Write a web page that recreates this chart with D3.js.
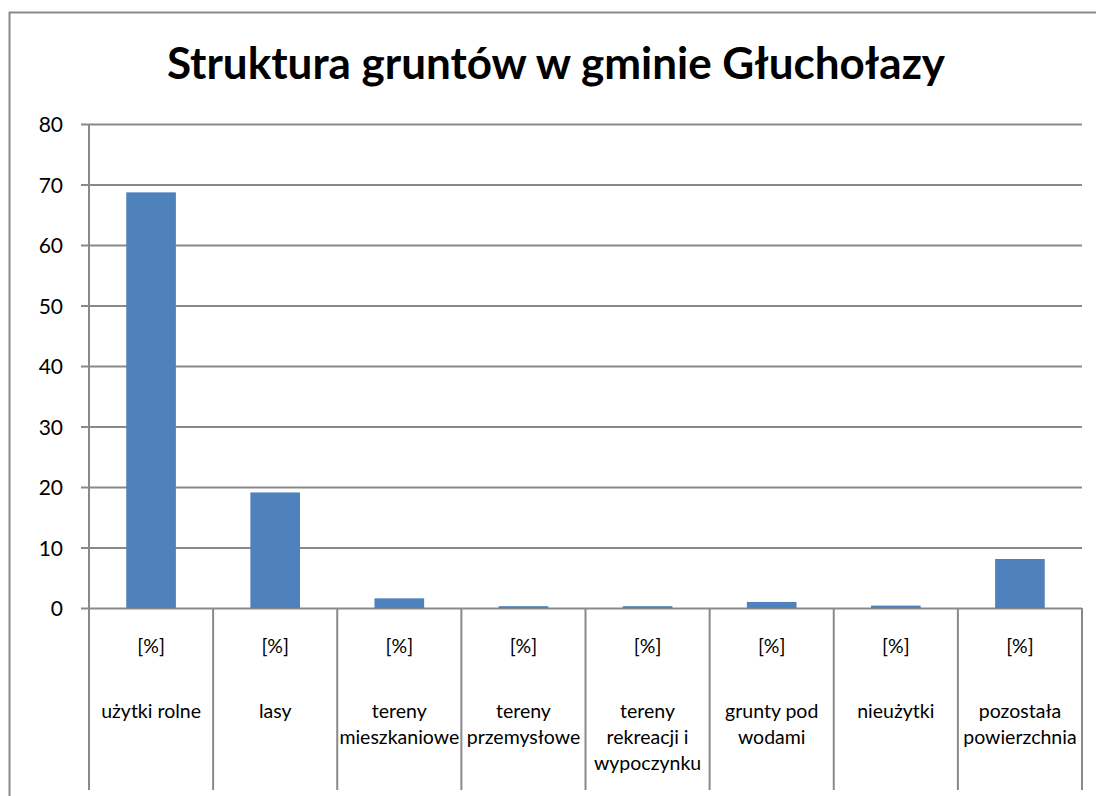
<!DOCTYPE html>
<html>
<head>
<meta charset="utf-8">
<script src="https://cdn.jsdelivr.net/npm/d3@7"></script>
<style>
  body { margin: 0; background: #fff; }
  text { font-family: Lato, "Open Sans", sans-serif; fill: #000; }
</style>
</head>
<body>
<div id="chart"></div>
<script>
// chart values
const categories = ["użytki rolne", "lasy", "tereny mieszkaniowe", "tereny przemysłowe",
    "tereny rekreacji i wypoczynku", "grunty pod wodami", "nieużytki", "pozostała powierzchnia"];
const labelLines = [["użytki rolne"], ["lasy"], ["tereny", "mieszkaniowe"], ["tereny", "przemysłowe"],
    ["tereny", "rekreacji i", "wypoczynku"], ["grunty pod", "wodami"], ["nieużytki"], ["pozostała", "powierzchnia"]];
const unitLabels = ["[%]", "[%]", "[%]", "[%]", "[%]", "[%]", "[%]", "[%]"];
const values = [68.7, 19.1, 1.6, 0.3, 0.3, 1.0, 0.4, 8.1];
const yTicks = [0, 10, 20, 30, 40, 50, 60, 70, 80];
const title = "Struktura gruntów w gminie Głuchołazy";

const W = 1096, H = 796;
const margin = {top: 124, right: 14, bottom: 188, left: 89};
const gridColor = "#898989";

const svg = d3.select("#chart").append("svg")
    .attr("width", W)
    .attr("height", H);

// outer chart frame
svg.append("path")
    .attr("d", `M9.5,${H} L9.5,12.5 L${W},12.5`)
    .attr("fill", "none")
    .attr("stroke", gridColor)
    .attr("stroke-width", 2);

svg.append("text")
    .attr("x", 556)
    .attr("y", 79)
    .attr("text-anchor", "middle")
    .style("font-size", "44px")
    .style("font-weight", "bold")
    .text(title);

const x = d3.scaleBand()
    .domain(categories)
    .range([margin.left, W - margin.right])
    .paddingInner(0.6)
    .paddingOuter(0.3);

const y = d3.scaleLinear()
    .domain([0, 80])
    .range([H - margin.bottom, margin.top]);

// gridlines + y axis
const yAxis = d3.axisLeft(y)
    .tickValues(yTicks)
    .tickSize(-(W - margin.right - margin.left))
    .tickPadding(26)
    .tickFormat(d3.format("d"));

const gy = svg.append("g")
    .attr("transform", `translate(${margin.left},0)`)
    .call(yAxis);
gy.select(".domain").remove();
gy.selectAll(".tick line")
    .attr("x1", -8)
    .attr("stroke", gridColor)
    .attr("stroke-width", 2);
gy.selectAll(".tick text")
    .style("font-size", "21px")
    .attr("dy", "0.36em");

// y axis line
svg.append("line")
    .attr("x1", margin.left).attr("x2", margin.left)
    .attr("y1", margin.top).attr("y2", H - margin.bottom)
    .attr("stroke", gridColor)
    .attr("stroke-width", 2);

// bars
svg.append("g").selectAll("rect")
    .data(values)
    .enter()
    .append("rect")
        .attr("x", (d, i) => x(categories[i]))
        .attr("y", d => y(d))
        .attr("width", x.bandwidth())
        .attr("height", d => y(0) - y(d))
        .attr("fill", "#4F81BD");

// category axis, two levels
const step = x.step();
const bounds = categories.map(c => x(c) - step * x.paddingOuter());
bounds.push(W - margin.right);

const gx = svg.append("g");
gx.selectAll(".sep")
    .data(bounds)
    .enter()
    .append("line")
        .attr("class", "sep")
        .attr("x1", d => d).attr("x2", d => d)
        .attr("y1", y(0)).attr("y2", 790)
        .attr("stroke", gridColor)
        .attr("stroke-width", 2);

const cats = gx.selectAll(".cat")
    .data(categories)
    .enter()
    .append("g")
        .attr("class", "cat")
        .attr("transform", c => `translate(${x(c) + x.bandwidth() / 2},0)`);

cats.append("text")
    .attr("y", 653)
    .attr("text-anchor", "middle")
    .style("font-size", "19.5px")
    .text((c, i) => unitLabels[i]);

cats.each(function(c, i) {
    d3.select(this).selectAll(".lbl")
        .data(labelLines[i])
        .enter()
        .append("text")
            .attr("class", "lbl")
            .attr("y", (l, j) => 718 + j * 26)
            .attr("text-anchor", "middle")
            .style("font-size", "19.5px")
            .text(l => l);
});
</script>
</body>
</html>
